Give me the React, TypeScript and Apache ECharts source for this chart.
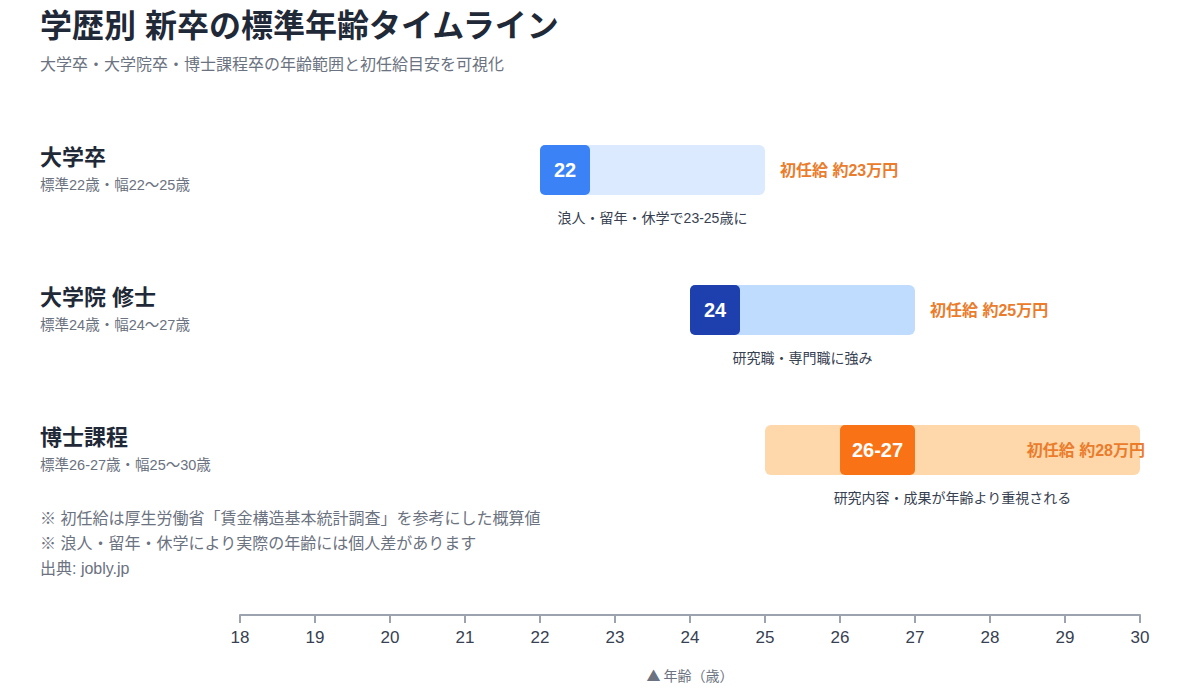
import React, { useEffect, useRef } from "react";
import * as echarts from "echarts";

const FONT = '"Liberation Sans", "Noto Sans CJK JP", "Noto Sans", sans-serif';
const CJK_FONT = '"Noto Sans CJK JP", "Noto Sans", sans-serif';

const rowNames = ["大学卒", "大学院 修士", "博士課程"];
const rowSubs = ["標準22歳・幅22〜25歳", "標準24歳・幅24〜27歳", "標準26-27歳・幅25〜30歳"];
const rangeStart = [22, 24, 25];
const rangeEnd = [25, 27, 30];
const standardStart = [22, 24, 26];
const standardEnd = [22, 24, 27];
const standardLabels = ["22", "24", "26-27"];
const salaryLabels = ["初任給 約23万円", "初任給 約25万円", "初任給 約28万円"];
const notes = ["浪人・留年・休学で23-25歳に", "研究職・専門職に強み", "研究内容・成果が年齢より重視される"];
const ageMin = 18;
const ageMax = 30;
const footnotes = [
  "※ 初任給は厚生労働省「賃金構造基本統計調査」を参考にした概算値",
  "※ 浪人・留年・休学により実際の年齢には個人差があります",
  "出典: jobly.jp",
];
const titleText = "学歴別 新卒の標準年齢タイムライン";
const subtitleText = "大学卒・大学院卒・博士課程卒の年齢範囲と初任給目安を可視化";
const axisName = "▲ 年齢（歳）";

const barColors = ["#dbeafe", "#bfdbfe", "#fed7aa"];
const markColors = ["#3b82f6", "#1e40af", "#f97316"];
const salaryColor = "#ea7c2c";

export default function App() {
  const ref = useRef<HTMLDivElement>(null);
  useEffect(() => {
    if (!ref.current) return;
    const chart = echarts.init(ref.current, undefined, { renderer: "svg" });
    const BAR_H = 50;
    const renderItem = (params: any, api: any) => {
      const i = api.value(0);
      const [x0, yc] = api.coord([rangeStart[i], i]);
      const [x1] = api.coord([rangeEnd[i], i]);
      const [s0] = api.coord([standardStart[i], i]);
      const [s1raw] = api.coord([standardEnd[i], i]);
      const s1 = Math.max(s1raw, s0 + 50);
      const [xMaxPx] = api.coord([ageMax, i]);
      const top = yc - BAR_H / 2;
      const bottom = yc + BAR_H / 2;
      const atEnd = rangeEnd[i] >= ageMax;
      const salX = atEnd ? xMaxPx + 5 : x1 + 15;
      return {
        type: "group",
        children: [
          {
            type: "text",
            style: {
              text: rowNames[i], x: 40, y: yc - 13, fill: "#1f2937",
              font: `bold 22px ${FONT}`, align: "left", verticalAlign: "middle",
              textAlign: "left", textVerticalAlign: "middle",
            },
          },
          {
            type: "text",
            style: {
              text: rowSubs[i], x: 40, y: yc + 15, fill: "#6b7280",
              font: `14.5px ${FONT}`, align: "left", verticalAlign: "middle",
              textAlign: "left", textVerticalAlign: "middle",
            },
          },
          {
            type: "rect",
            shape: { x: x0, y: top, width: x1 - x0, height: BAR_H, r: 6 },
            style: { fill: barColors[i] },
          },
          {
            type: "rect",
            shape: { x: s0, y: top, width: s1 - s0, height: BAR_H, r: 5 },
            style: { fill: markColors[i] },
          },
          {
            type: "text",
            style: {
              text: standardLabels[i], x: (s0 + s1) / 2, y: yc, fill: "#ffffff",
              font: `bold 20px ${FONT}`, align: "center", verticalAlign: "middle",
              textAlign: "center", textVerticalAlign: "middle",
            },
          },
          {
            type: "text",
            style: {
              text: salaryLabels[i], x: salX, y: yc, fill: salaryColor,
              font: `600 16px ${FONT}`, align: atEnd ? "right" : "left", verticalAlign: "middle",
              textAlign: atEnd ? "right" : "left", textVerticalAlign: "middle",
            },
          },
          {
            type: "text",
            style: {
              text: notes[i], x: (x0 + x1) / 2, y: bottom + 23, fill: "#374151",
              font: `14px ${FONT}`, align: "center", verticalAlign: "middle",
              textAlign: "center", textVerticalAlign: "middle",
            },
          },
        ],
      };
    };

    const graphicTexts: any[] = [
      {
        type: "text", left: 40, top: 10,
        style: { text: titleText, fill: "#1f2937", font: `bold 32px ${FONT}` },
      },
      {
        type: "text", left: 40, top: 56,
        style: { text: subtitleText, fill: "#6b7280", font: `16px ${FONT}` },
      },
      ...footnotes.map((t, k) => ({
        type: "text", left: 40, top: 510 + k * 25,
        style: { text: t, fill: "#6b7280", font: `16px ${FONT}` },
      })),
    ];

    chart.setOption({
      animation: false,
      backgroundColor: "#ffffff",
      textStyle: { fontFamily: FONT },
      graphic: graphicTexts,
      grid: { left: 240, right: 60, top: 100, bottom: 175 },
      xAxis: {
        type: "value",
        min: ageMin,
        max: ageMax,
        interval: 1,
        position: "bottom",
        offset: 95,
        axisLine: { show: true, lineStyle: { color: "#9ca3af", width: 2 } },
        axisTick: { show: true, length: 8, lineStyle: { color: "#9ca3af", width: 2 } },
        axisLabel: { color: "#374151", fontSize: 17, margin: 14, fontFamily: FONT },
        splitLine: { show: false },
        name: axisName,
        nameLocation: "middle",
        nameGap: 53,
        nameTextStyle: { color: "#6b7280", fontSize: 14, fontFamily: CJK_FONT },
      },
      yAxis: {
        type: "category",
        data: rowNames,
        inverse: true,
        show: false,
      },
      series: [
        {
          type: "custom",
          renderItem,
          data: rowNames.map((_, i) => [i]),
          encode: { x: -1, y: 0 },
          clip: false,
        },
      ],
    });
    return () => chart.dispose();
  }, []);
  return (
    <div
      ref={ref}
      style={{ position: "fixed", left: 0, top: 0, width: 1200, height: 695, background: "#fff" }}
    />
  );
}
